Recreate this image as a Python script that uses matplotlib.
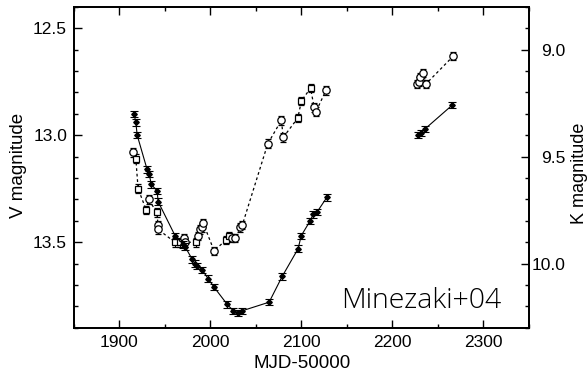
import matplotlib.pyplot as plt
from matplotlib.ticker import MultipleLocator
import numpy as np

# V band (open symbols, dashed), two seasons
v_mjd_1 = [1915, 1918, 1920.5, 1929.5, 1932, 1941, 1942.5, 1942.5, 1961, 1966.7,
           1971, 1972, 1984, 1986.5, 1988.7, 1991, 1992, 2004, 2017, 2020.5,
           2024, 2027, 2033, 2035, 2063, 2078, 2080, 2096, 2100, 2110,
           2114, 2116, 2127]
v_mag_1 = [13.08, 13.11, 13.25, 13.35, 13.30, 13.36, 13.42, 13.44, 13.50, 13.50,
           13.48, 13.50, 13.50, 13.47, 13.44, 13.43, 13.41, 13.54, 13.49, 13.47,
           13.48, 13.48, 13.43, 13.42, 13.04, 12.93, 13.01, 12.92, 12.84, 12.78,
           12.87, 12.89, 12.79]
v_square_1 = [0, 1, 1, 1, 0, 1, 0, 0, 1, 1,
              0, 0, 1, 0, 0, 0, 0, 0, 1, 1,
              0, 0, 0, 0, 0, 0, 0, 1, 1, 1,
              0, 0, 0]
v_mjd_2 = [2227, 2229, 2230, 2234, 2237, 2267]
v_mag_2 = [12.76, 12.75, 12.73, 12.71, 12.76, 12.63]

# K band (filled symbols, solid), two seasons
k_mjd_1 = [1916, 1918, 1919.5, 1930.4, 1932.6, 1935, 1941.4, 1942.5, 1961.2, 1970,
           1972, 1980, 1983, 1985.4, 1991, 1997.5, 2004, 2018.4, 2025, 2030,
           2035, 2064.5, 2078.8, 2096.4, 2099.7, 2109.6, 2112.9, 2117, 2128]
k_mag_1 = [9.30, 9.34, 9.40, 9.56, 9.58, 9.63, 9.66, 9.71, 9.87, 9.91,
           9.92, 9.98, 10.00, 10.01, 10.03, 10.07, 10.11, 10.19, 10.22, 10.23,
           10.22, 10.18, 10.06, 9.93, 9.87, 9.80, 9.77, 9.76, 9.69]
k_mjd_2 = [2228, 2231.5, 2236, 2265.6]
k_mag_2 = [9.40, 9.39, 9.37, 9.26]

plt.rcParams['font.family'] = ['Liberation Sans', 'DejaVu Sans']

fig = plt.figure(figsize=(5.87, 3.76), dpi=100)
ax = fig.add_axes([0.126, 0.128, 0.775, 0.854])
ax2 = ax.twinx()

dash = (0, (2.2, 2.2))

def draw_v(ax, mjd, mag, square):
    ax.plot(mjd, mag, color='k', lw=0.9, linestyle=dash, zorder=2)
    for x, y, s in zip(mjd, mag, square):
        ax.errorbar(x, y, yerr=0.02, fmt='s' if s else 'o', ms=4.8 if s else 5.3,
                    mfc='white', mec='k', mew=0.9, ecolor='k', elinewidth=0.8,
                    capsize=2.5, capthick=0.8, zorder=3)

draw_v(ax, v_mjd_1, v_mag_1, v_square_1)
draw_v(ax, v_mjd_2, v_mag_2, [0] * len(v_mjd_2))

for mjd, mag in [(k_mjd_1, k_mag_1), (k_mjd_2, k_mag_2)]:
    ax2.plot(mjd, mag, color='k', lw=0.8, zorder=2)
    ax2.errorbar(mjd, mag, yerr=0.015, fmt='D', ms=2.8, mfc='k', mec='k',
                 ecolor='k', elinewidth=0.8, capsize=2.8, capthick=0.8, zorder=3)

ax.set_xlim(1850, 2350)
ax.set_ylim(13.9, 12.4)
ax2.set_ylim(10.3, 8.8)

ax.xaxis.set_major_locator(MultipleLocator(100))
ax.xaxis.set_minor_locator(MultipleLocator(50))
ax.yaxis.set_major_locator(MultipleLocator(0.5))
ax.yaxis.set_minor_locator(MultipleLocator(0.1))
ax2.yaxis.set_major_locator(MultipleLocator(0.5))
ax2.yaxis.set_minor_locator(MultipleLocator(0.1))
ax.yaxis.set_major_formatter(plt.FormatStrFormatter('%.1f'))
ax2.yaxis.set_major_formatter(plt.FormatStrFormatter('%.1f'))

ax.tick_params(which='both', direction='in', top=True, right=False,
               labelsize=12.5, width=1.0)
ax.tick_params(axis='x', pad=5)
ax.tick_params(axis='y', pad=5)
ax.tick_params(which='major', length=6)
ax.tick_params(which='minor', length=3)
ax2.tick_params(which='both', direction='in', labelsize=12.5, width=1.0, pad=26.5)
ax2.tick_params(which='major', length=6)
ax2.tick_params(which='minor', length=3)
for lbl in ax2.get_yticklabels():
    lbl.set_horizontalalignment('right')

for a in (ax, ax2):
    for sp in a.spines.values():
        sp.set_linewidth(1.3)

fig.text(0.514, 0.032, 'MJD-50000', fontsize=13.5, ha='center', va='center')
fig.text(0.0315, 0.561, 'V magnitude', fontsize=13.5, rotation=90,
         ha='center', va='center')
fig.text(0.987, 0.54, 'K magnitude', fontsize=13, rotation=90,
         ha='center', va='center')

ax.text(0.94, 0.062, 'Minezaki+04', transform=ax.transAxes, ha='right',
        va='baseline', fontsize=20.5, family=['Open Sans', 'DejaVu Sans'],
        fontweight='light')

fig.savefig('out.png', dpi=100)
